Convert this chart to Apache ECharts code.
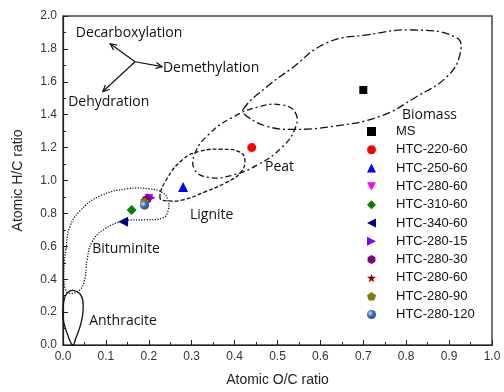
<!DOCTYPE html>
<html>
<head>
<meta charset="utf-8">
<script src="https://cdn.jsdelivr.net/npm/echarts@6/dist/echarts.min.js"></script>
<style>
  html, body { margin: 0; padding: 0; background: #fff; }
  #chart { width: 504px; height: 392px; }
</style>
</head>
<body>
<div id="chart"></div>
<script>
// samples (O/C, H/C)
const sampleNames = ['MS', 'HTC-220-60', 'HTC-250-60', 'HTC-280-60', 'HTC-310-60', 'HTC-340-60',
  'HTC-280-15', 'HTC-280-30', 'HTC-280-60 ', 'HTC-280-90', 'HTC-280-120']
const ocRatio = [0.70, 0.44, 0.28, 0.20, 0.16, 0.14, 0.205, 0.195, 0.19, 0.19, 0.19]
const hcRatio = [1.55, 1.20, 0.96, 0.89, 0.82, 0.75, 0.895, 0.885, 0.88, 0.87, 0.85]

const xTicks = [0, 0.1, 0.2, 0.3, 0.4, 0.5, 0.6, 0.7, 0.8, 0.9, 1.0]
const yTicks = [0, 0.2, 0.4, 0.6, 0.8, 1.0, 1.2, 1.4, 1.6, 1.8, 2.0]

// region outlines, [O/C, H/C]
const biomass = [[0.420, 1.432], [0.476, 1.571], [0.529, 1.674], [0.615, 1.837], [0.709, 1.885],
  [0.816, 1.915], [0.918, 1.867], [0.925, 1.764], [0.895, 1.631], [0.825, 1.511], [0.739, 1.390],
  [0.629, 1.329], [0.536, 1.311], [0.476, 1.329], [0.429, 1.390]]
const peat = [[0.542, 1.411], [0.541, 1.316], [0.510, 1.201], [0.455, 1.097], [0.392, 1.030],
  [0.338, 1.019], [0.307, 1.066], [0.307, 1.161], [0.338, 1.276], [0.393, 1.381], [0.456, 1.448],
  [0.511, 1.459]]
const lignite = [[0.226, 0.894], [0.242, 1.009], [0.280, 1.130], [0.319, 1.178], [0.371, 1.190],
  [0.413, 1.172], [0.424, 1.118], [0.413, 1.045], [0.378, 0.985], [0.331, 0.931], [0.280, 0.882],
  [0.245, 0.876]]
const bituminite = [[0.007, 0.586], [0.016, 0.719], [0.040, 0.816], [0.086, 0.906], [0.149, 0.949],
  [0.203, 0.949], [0.233, 0.924], [0.245, 0.876], [0.245, 0.816], [0.233, 0.773], [0.191, 0.761],
  [0.145, 0.755], [0.098, 0.707], [0.068, 0.628], [0.056, 0.514], [0.051, 0.405], [0.040, 0.338],
  [0.016, 0.314], [0.005, 0.344], [0.002, 0.465]]
const anthracite = [[0.023, 0.332], [0.042, 0.302], [0.047, 0.224], [0.042, 0.133], [0.030, 0.042],
  [0.023, 0.0], [0.012, 0.054], [0.0, 0.163], [0.002, 0.266], [0.009, 0.314]]

// reaction arrows: from, to
const arrowFrom = [0.168, 1.722]
const arrowTo = [[0.110, 1.831], [0.231, 1.692], [0.093, 1.541]]

// text notes: label, O/C, H/C (left edge, middle)
const noteText = ['Decarboxylation', 'Demethylation', 'Dehydration', 'Biomass', 'Peat', 'Lignite', 'Bituminite', 'Anthracite']
const noteX = [0.030, 0.233, 0.012, 0.790, 0.471, 0.296, 0.068, 0.061]
const noteY = [1.897, 1.686, 1.480, 1.396, 1.082, 0.792, 0.586, 0.145]

const outlines = [biomass, peat, lignite, bituminite, anthracite]
const outlineDash = [[8, 3, 2, 3], [6, 3, 2, 3], [4, 2], [1.2, 1.5], null]

const symbols = [
  'rect', 'circle', 'triangle',
  'path://M0,0L10,0L5,9Z',
  'diamond',
  'path://M10,0L10,10L0,5Z',
  'path://M0,0L0,10L10,5Z',
  'path://M5,0L9.33,2.5L9.33,7.5L5,10L0.67,7.5L0.67,2.5Z',
  'path://M5,0L6.18,3.6L10,3.6L6.9,5.9L8.1,9.5L5,7.3L1.9,9.5L3.1,5.9L0,3.6L3.82,3.6Z',
  'path://M5,0L10,3.8L8.1,9.5L1.9,9.5L0,3.8Z',
  'circle'
]
const sizes = [8, 9, 10, 9, 10, 10, 9, 9, 9, 9, 9]
const colors = ['#000000', '#ff0000', '#0000ff', '#ff00ff', '#008000', '#000080', '#8000ff', '#800080', '#800000', '#808000',
  new echarts.graphic.RadialGradient(0.35, 0.35, 0.7, [{ offset: 0, color: '#c8daf2' }, { offset: 0.5, color: '#3d6db5' }, { offset: 1, color: '#1f4c8c' }])]

const chart = echarts.init(document.getElementById('chart'), null, { renderer: 'canvas' })

const sampleSeries = sampleNames.map(function (name, i) {
  return {
    name: name,
    type: 'scatter',
    symbol: symbols[i],
    symbolSize: sizes[i],
    itemStyle: { color: colors[i], opacity: 1 },
    data: [[ocRatio[i], hcRatio[i]]],
    z: 5
  }
})

const font = 'Liberation Sans'

const option = {
  animation: false,
  grid: {
    left: 63,
    right: 12,
    top: 16,
    bottom: 45,
    show: true,
    borderColor: '#444',
    borderWidth: 1.5,
    backgroundColor: 'transparent'
  },
  legend: {
    data: sampleNames,
    orient: 'vertical',
    left: 362,
    top: 120,
    itemWidth: 9,
    itemHeight: 9,
    itemGap: 5.3,
    textStyle: { fontFamily: font, fontSize: 13, color: '#111', padding: [0, 0, 0, 15] }
  },
  xAxis: {
    type: 'value',
    min: 0,
    max: 1,
    interval: 0.1,
    name: 'Atomic O/C ratio',
    nameLocation: 'middle',
    nameGap: 28,
    nameTextStyle: { fontFamily: font, fontSize: 14, color: '#222' },
    axisLine: { lineStyle: { color: '#222', width: 1.2 } },
    axisTick: { inside: true, length: 5, lineStyle: { color: '#222' } },
    minorTick: { show: true, splitNumber: 2, length: 3, lineStyle: { color: '#222' } },
    splitLine: { show: false },
    axisLabel: {
      margin: 6,
      fontFamily: font,
      fontSize: 12,
      color: '#333',
      formatter: function (v) { return xTicks.indexOf(Math.round(v * 10) / 10) >= 0 ? v.toFixed(1) : '' }
    }
  },
  yAxis: {
    type: 'value',
    min: 0,
    max: 2,
    interval: 0.2,
    name: 'Atomic H/C ratio',
    nameLocation: 'middle',
    nameGap: 38,
    nameTextStyle: { fontFamily: font, fontSize: 14, color: '#222' },
    axisLine: { show: true, lineStyle: { color: '#222', width: 1.2 } },
    axisTick: { show: true, inside: true, length: 5, lineStyle: { color: '#222' } },
    minorTick: { show: true, splitNumber: 2, length: 3, lineStyle: { color: '#222' } },
    splitLine: { show: false },
    axisLabel: {
      margin: 6,
      fontFamily: font,
      fontSize: 12,
      color: '#333',
      formatter: function (v) { return yTicks.indexOf(Math.round(v * 10) / 10) >= 0 ? v.toFixed(1) : '' }
    }
  },
  series: [
    {
      type: 'custom',
      name: 'regions',
      silent: true,
      z: 2,
      data: outlines.map(function (o) { return o[0] }),
      renderItem: function (params, api) {
        const pts = outlines[params.dataIndex].map(function (p) { return api.coord(p) })
        return {
          type: 'polygon',
          shape: { points: pts, smooth: 0.45 },
          style: {
            fill: 'none',
            stroke: '#111',
            lineWidth: 1.3,
            lineDash: outlineDash[params.dataIndex]
          }
        }
      }
    },
    {
      type: 'custom',
      name: 'arrows',
      silent: true,
      z: 3,
      data: arrowTo,
      renderItem: function (params, api) {
        const a = api.coord(arrowFrom)
        const b = api.coord(arrowTo[params.dataIndex])
        const ang = Math.atan2(b[1] - a[1], b[0] - a[0])
        const hl = 7
        const h1 = [b[0] - hl * Math.cos(ang - 0.45), b[1] - hl * Math.sin(ang - 0.45)]
        const h2 = [b[0] - hl * Math.cos(ang + 0.45), b[1] - hl * Math.sin(ang + 0.45)]
        return {
          type: 'group',
          children: [
            { type: 'line', shape: { x1: a[0], y1: a[1], x2: b[0], y2: b[1] }, style: { stroke: '#111', lineWidth: 1.2 } },
            { type: 'polyline', shape: { points: [h1, b, h2] }, style: { stroke: '#111', lineWidth: 1.2, fill: 'none' } }
          ]
        }
      }
    },
    {
      type: 'custom',
      name: 'notes',
      silent: true,
      z: 4,
      data: noteText.map(function (t, i) { return [noteX[i], noteY[i]] }),
      renderItem: function (params, api) {
        const p = api.coord([noteX[params.dataIndex], noteY[params.dataIndex]])
        return {
          type: 'text',
          style: {
            text: noteText[params.dataIndex],
            x: p[0],
            y: p[1],
            align: 'left',
            verticalAlign: 'middle',
            font: '14px "Open Sans", sans-serif',
            fill: '#111'
          }
        }
      }
    }
  ].concat(sampleSeries)
}

chart.setOption(option)
</script>
</body>
</html>
